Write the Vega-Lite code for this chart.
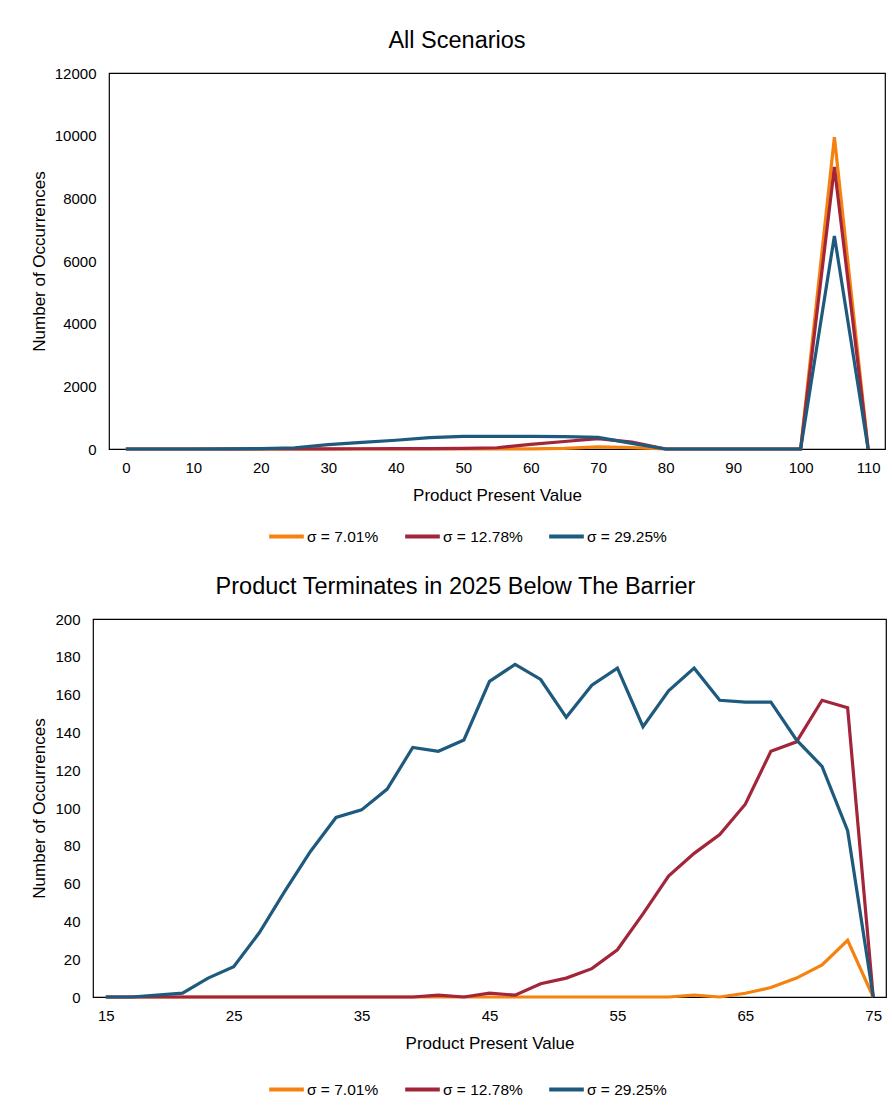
{
  "$schema": "https://vega.github.io/schema/vega-lite/v6.json",
  "background": "white",
  "padding": {"left": 29, "top": 27, "right": 5, "bottom": 0},
  "spacing": 28,
  "config": {
    "font": "Liberation Sans",
    "view": {"stroke": "black", "strokeWidth": 1.2},
    "axis": {"grid": false, "ticks": false, "domain": false, "labelFont": "Liberation Sans", "labelFontSize": 15, "labelColor": "#000000", "titleFont": "Liberation Sans", "titleFontSize": 17, "titleFontWeight": "normal", "titleColor": "#000000"},
    "title": {"font": "Liberation Sans", "fontSize": 23.5, "fontWeight": "normal", "color": "#000000", "offset": 14},
    "legend": {"orient": "none", "direction": "horizontal", "title": null, "labelFont": "Liberation Sans", "labelFontSize": 15.5, "labelColor": "#000000", "symbolType": "stroke", "symbolStrokeWidth": 4, "symbolSize": 1200, "labelOffset": 1, "columnPadding": 18}
  },
  "resolve": {"scale": {"color": "independent"}, "legend": {"color": "independent"}},
  "vconcat": [
    {
      "spacing": -65,
      "hconcat": [
        {
          "width": 1,
          "height": 1,
          "view": {"stroke": null},
          "data": {"values": []},
          "mark": "point",
          "encoding": {}
        },
        {
          "title": {"text": "All Scenarios", "dx": -40},
          "width": 776,
          "height": 376,
          "data": {"values": [
            {"x": 0, "n": 0, "s": "σ = 7.01%"}, {"x": 5, "n": 0, "s": "σ = 7.01%"}, {"x": 10, "n": 0, "s": "σ = 7.01%"}, {"x": 15, "n": 0, "s": "σ = 7.01%"}, {"x": 20, "n": 0, "s": "σ = 7.01%"}, {"x": 25, "n": 0, "s": "σ = 7.01%"}, {"x": 30, "n": 0, "s": "σ = 7.01%"}, {"x": 35, "n": 0, "s": "σ = 7.01%"}, {"x": 40, "n": 0, "s": "σ = 7.01%"}, {"x": 45, "n": 0, "s": "σ = 7.01%"}, {"x": 50, "n": 0, "s": "σ = 7.01%"}, {"x": 55, "n": 0, "s": "σ = 7.01%"}, {"x": 60, "n": 3, "s": "σ = 7.01%"}, {"x": 65, "n": 20, "s": "σ = 7.01%"}, {"x": 70, "n": 65, "s": "σ = 7.01%"}, {"x": 75, "n": 45, "s": "σ = 7.01%"}, {"x": 80, "n": 0, "s": "σ = 7.01%"}, {"x": 85, "n": 0, "s": "σ = 7.01%"}, {"x": 90, "n": 0, "s": "σ = 7.01%"}, {"x": 95, "n": 0, "s": "σ = 7.01%"}, {"x": 100, "n": 0, "s": "σ = 7.01%"}, {"x": 105, "n": 9950, "s": "σ = 7.01%"}, {"x": 110, "n": 0, "s": "σ = 7.01%"},
            {"x": 0, "n": 0, "s": "σ = 12.78%"}, {"x": 5, "n": 0, "s": "σ = 12.78%"}, {"x": 10, "n": 0, "s": "σ = 12.78%"}, {"x": 15, "n": 0, "s": "σ = 12.78%"}, {"x": 20, "n": 0, "s": "σ = 12.78%"}, {"x": 25, "n": 2, "s": "σ = 12.78%"}, {"x": 30, "n": 5, "s": "σ = 12.78%"}, {"x": 35, "n": 8, "s": "σ = 12.78%"}, {"x": 40, "n": 10, "s": "σ = 12.78%"}, {"x": 45, "n": 15, "s": "σ = 12.78%"}, {"x": 50, "n": 20, "s": "σ = 12.78%"}, {"x": 55, "n": 40, "s": "σ = 12.78%"}, {"x": 60, "n": 150, "s": "σ = 12.78%"}, {"x": 65, "n": 240, "s": "σ = 12.78%"}, {"x": 70, "n": 330, "s": "σ = 12.78%"}, {"x": 75, "n": 220, "s": "σ = 12.78%"}, {"x": 80, "n": 0, "s": "σ = 12.78%"}, {"x": 85, "n": 0, "s": "σ = 12.78%"}, {"x": 90, "n": 0, "s": "σ = 12.78%"}, {"x": 95, "n": 0, "s": "σ = 12.78%"}, {"x": 100, "n": 0, "s": "σ = 12.78%"}, {"x": 105, "n": 9000, "s": "σ = 12.78%"}, {"x": 110, "n": 0, "s": "σ = 12.78%"},
            {"x": 0, "n": 0, "s": "σ = 29.25%"}, {"x": 5, "n": 0, "s": "σ = 29.25%"}, {"x": 10, "n": 0, "s": "σ = 29.25%"}, {"x": 15, "n": 3, "s": "σ = 29.25%"}, {"x": 20, "n": 15, "s": "σ = 29.25%"}, {"x": 25, "n": 40, "s": "σ = 29.25%"}, {"x": 30, "n": 140, "s": "σ = 29.25%"}, {"x": 35, "n": 210, "s": "σ = 29.25%"}, {"x": 40, "n": 280, "s": "σ = 29.25%"}, {"x": 45, "n": 360, "s": "σ = 29.25%"}, {"x": 50, "n": 400, "s": "σ = 29.25%"}, {"x": 55, "n": 405, "s": "σ = 29.25%"}, {"x": 60, "n": 405, "s": "σ = 29.25%"}, {"x": 65, "n": 395, "s": "σ = 29.25%"}, {"x": 70, "n": 370, "s": "σ = 29.25%"}, {"x": 75, "n": 180, "s": "σ = 29.25%"}, {"x": 80, "n": 0, "s": "σ = 29.25%"}, {"x": 85, "n": 0, "s": "σ = 29.25%"}, {"x": 90, "n": 0, "s": "σ = 29.25%"}, {"x": 95, "n": 0, "s": "σ = 29.25%"}, {"x": 100, "n": 0, "s": "σ = 29.25%"}, {"x": 105, "n": 6800, "s": "σ = 29.25%"}, {"x": 110, "n": 0, "s": "σ = 29.25%"}
          ]},
          "mark": {"type": "line", "strokeWidth": 3.2},
          "encoding": {
            "x": {"field": "x", "type": "quantitative", "scale": {"domain": [-2.5, 112.5], "nice": false, "zero": false}, "axis": {"values": [0, 10, 20, 30, 40, 50, 60, 70, 80, 90, 100, 110], "title": "Product Present Value", "labelPadding": 11, "titlePadding": 12}},
            "y": {"field": "n", "type": "quantitative", "scale": {"domain": [0, 12000], "nice": false}, "axis": {"values": [0, 2000, 4000, 6000, 8000, 10000, 12000], "format": "d", "title": "Number of Occurrences", "labelPadding": 13, "titlePadding": 6}},
            "color": {"field": "s", "type": "nominal", "scale": {"domain": ["σ = 7.01%", "σ = 12.78%", "σ = 29.25%"], "range": ["#F5820F", "#A3253A", "#1D5A7E"]}, "legend": {"legendX": 174, "legendY": 444}}
          }
        }
      ]
    },
    {
      "title": {"text": "Product Terminates in 2025 Below The Barrier", "dx": -34},
      "width": 793,
      "height": 378,
      "data": {"values": [
        {"x": 15, "n": 0, "s": "σ = 7.01%"}, {"x": 17, "n": 0, "s": "σ = 7.01%"}, {"x": 19, "n": 0, "s": "σ = 7.01%"}, {"x": 21, "n": 0, "s": "σ = 7.01%"}, {"x": 23, "n": 0, "s": "σ = 7.01%"}, {"x": 25, "n": 0, "s": "σ = 7.01%"}, {"x": 27, "n": 0, "s": "σ = 7.01%"}, {"x": 29, "n": 0, "s": "σ = 7.01%"}, {"x": 31, "n": 0, "s": "σ = 7.01%"}, {"x": 33, "n": 0, "s": "σ = 7.01%"}, {"x": 35, "n": 0, "s": "σ = 7.01%"}, {"x": 37, "n": 0, "s": "σ = 7.01%"}, {"x": 39, "n": 0, "s": "σ = 7.01%"}, {"x": 41, "n": 0, "s": "σ = 7.01%"}, {"x": 43, "n": 0, "s": "σ = 7.01%"}, {"x": 45, "n": 0, "s": "σ = 7.01%"}, {"x": 47, "n": 0, "s": "σ = 7.01%"}, {"x": 49, "n": 0, "s": "σ = 7.01%"}, {"x": 51, "n": 0, "s": "σ = 7.01%"}, {"x": 53, "n": 0, "s": "σ = 7.01%"}, {"x": 55, "n": 0, "s": "σ = 7.01%"}, {"x": 57, "n": 0, "s": "σ = 7.01%"}, {"x": 59, "n": 0, "s": "σ = 7.01%"}, {"x": 61, "n": 1, "s": "σ = 7.01%"}, {"x": 63, "n": 0, "s": "σ = 7.01%"}, {"x": 65, "n": 2, "s": "σ = 7.01%"}, {"x": 67, "n": 5, "s": "σ = 7.01%"}, {"x": 69, "n": 10, "s": "σ = 7.01%"}, {"x": 71, "n": 17, "s": "σ = 7.01%"}, {"x": 73, "n": 30, "s": "σ = 7.01%"}, {"x": 75, "n": 0, "s": "σ = 7.01%"},
        {"x": 15, "n": 0, "s": "σ = 12.78%"}, {"x": 17, "n": 0, "s": "σ = 12.78%"}, {"x": 19, "n": 0, "s": "σ = 12.78%"}, {"x": 21, "n": 0, "s": "σ = 12.78%"}, {"x": 23, "n": 0, "s": "σ = 12.78%"}, {"x": 25, "n": 0, "s": "σ = 12.78%"}, {"x": 27, "n": 0, "s": "σ = 12.78%"}, {"x": 29, "n": 0, "s": "σ = 12.78%"}, {"x": 31, "n": 0, "s": "σ = 12.78%"}, {"x": 33, "n": 0, "s": "σ = 12.78%"}, {"x": 35, "n": 0, "s": "σ = 12.78%"}, {"x": 37, "n": 0, "s": "σ = 12.78%"}, {"x": 39, "n": 0, "s": "σ = 12.78%"}, {"x": 41, "n": 1, "s": "σ = 12.78%"}, {"x": 43, "n": 0, "s": "σ = 12.78%"}, {"x": 45, "n": 2, "s": "σ = 12.78%"}, {"x": 47, "n": 1, "s": "σ = 12.78%"}, {"x": 49, "n": 7, "s": "σ = 12.78%"}, {"x": 51, "n": 10, "s": "σ = 12.78%"}, {"x": 53, "n": 15, "s": "σ = 12.78%"}, {"x": 55, "n": 25, "s": "σ = 12.78%"}, {"x": 57, "n": 44, "s": "σ = 12.78%"}, {"x": 59, "n": 64, "s": "σ = 12.78%"}, {"x": 61, "n": 76, "s": "σ = 12.78%"}, {"x": 63, "n": 86, "s": "σ = 12.78%"}, {"x": 65, "n": 102, "s": "σ = 12.78%"}, {"x": 67, "n": 130, "s": "σ = 12.78%"}, {"x": 69, "n": 135, "s": "σ = 12.78%"}, {"x": 71, "n": 157, "s": "σ = 12.78%"}, {"x": 73, "n": 153, "s": "σ = 12.78%"}, {"x": 75, "n": 0, "s": "σ = 12.78%"},
        {"x": 15, "n": 0, "s": "σ = 29.25%"}, {"x": 17, "n": 0, "s": "σ = 29.25%"}, {"x": 19, "n": 1, "s": "σ = 29.25%"}, {"x": 21, "n": 2, "s": "σ = 29.25%"}, {"x": 23, "n": 10, "s": "σ = 29.25%"}, {"x": 25, "n": 16, "s": "σ = 29.25%"}, {"x": 27, "n": 34, "s": "σ = 29.25%"}, {"x": 29, "n": 56, "s": "σ = 29.25%"}, {"x": 31, "n": 77, "s": "σ = 29.25%"}, {"x": 33, "n": 95, "s": "σ = 29.25%"}, {"x": 35, "n": 99, "s": "σ = 29.25%"}, {"x": 37, "n": 110, "s": "σ = 29.25%"}, {"x": 39, "n": 132, "s": "σ = 29.25%"}, {"x": 41, "n": 130, "s": "σ = 29.25%"}, {"x": 43, "n": 136, "s": "σ = 29.25%"}, {"x": 45, "n": 167, "s": "σ = 29.25%"}, {"x": 47, "n": 176, "s": "σ = 29.25%"}, {"x": 49, "n": 168, "s": "σ = 29.25%"}, {"x": 51, "n": 148, "s": "σ = 29.25%"}, {"x": 53, "n": 165, "s": "σ = 29.25%"}, {"x": 55, "n": 174, "s": "σ = 29.25%"}, {"x": 57, "n": 143, "s": "σ = 29.25%"}, {"x": 59, "n": 162, "s": "σ = 29.25%"}, {"x": 61, "n": 174, "s": "σ = 29.25%"}, {"x": 63, "n": 157, "s": "σ = 29.25%"}, {"x": 65, "n": 156, "s": "σ = 29.25%"}, {"x": 67, "n": 156, "s": "σ = 29.25%"}, {"x": 69, "n": 136, "s": "σ = 29.25%"}, {"x": 71, "n": 122, "s": "σ = 29.25%"}, {"x": 73, "n": 88, "s": "σ = 29.25%"}, {"x": 75, "n": 0, "s": "σ = 29.25%"}
      ]},
      "mark": {"type": "line", "strokeWidth": 3.2},
      "encoding": {
        "x": {"field": "x", "type": "quantitative", "scale": {"domain": [14, 76], "nice": false, "zero": false}, "axis": {"values": [15, 25, 35, 45, 55, 65, 75], "title": "Product Present Value", "labelPadding": 11, "titlePadding": 12}},
        "y": {"field": "n", "type": "quantitative", "scale": {"domain": [0, 200], "nice": false}, "axis": {"values": [0, 20, 40, 60, 80, 100, 120, 140, 160, 180, 200], "title": "Number of Occurrences", "labelPadding": 13, "titlePadding": 6}},
        "color": {"field": "s", "type": "nominal", "scale": {"domain": ["σ = 7.01%", "σ = 12.78%", "σ = 29.25%"], "range": ["#F5820F", "#A3253A", "#1D5A7E"]}, "legend": {"legendX": 174, "legendY": 451}}
      }
    }
  ]
}
